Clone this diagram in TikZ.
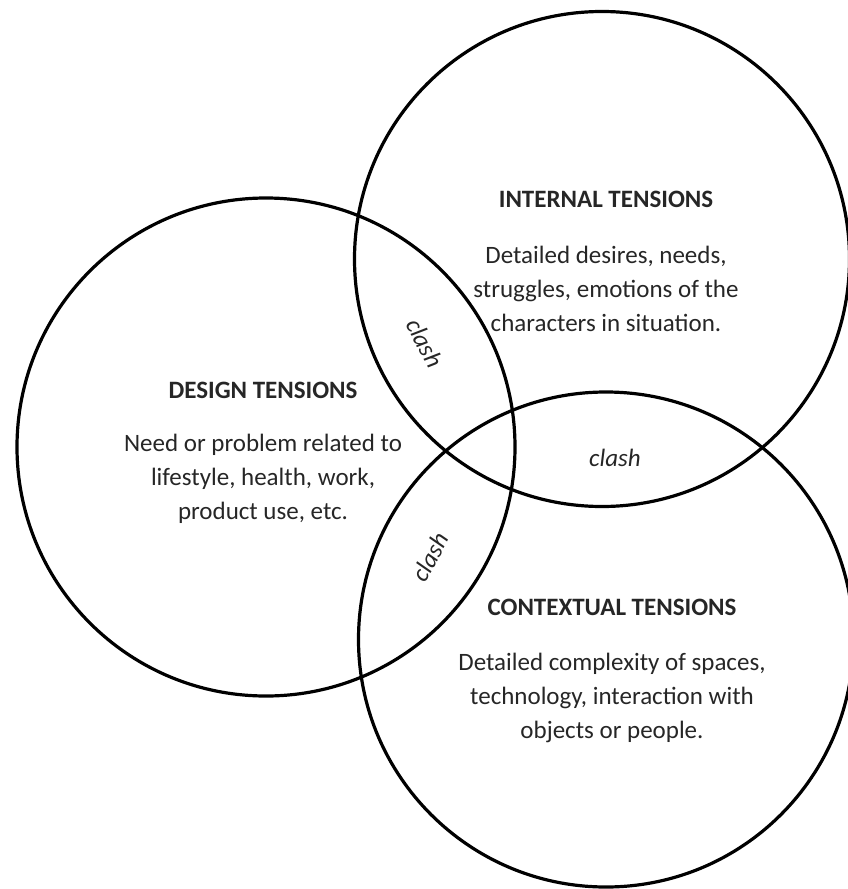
\documentclass[tikz,border=0pt]{standalone}
\usepackage{fontspec}
\setmainfont{Carlito}
\begin{document}
\begin{tikzpicture}[x=1pt,y=-1pt,
  ring/.style={circle,draw=black,line width=3.2pt,inner sep=0pt},
  ttl/.style={font=\fontsize{25}{34}\selectfont\bfseries,text=black!85,inner sep=0pt},
  body/.style={font=\fontsize{25}{34}\selectfont,text=black!85,align=center,inner sep=0pt},
  clashlbl/.style={font=\fontsize{25}{30}\selectfont\itshape,text=black!85,inner sep=0pt}]
\useasboundingbox (0,0) rectangle (847,889);
\node[ring,minimum size=498pt] (design) at (266,447) {};
\node[ring,minimum size=495pt] (internal) at (602,259) {};
\node[ring,minimum size=495pt] (contextual) at (606,639.5) {};
\node[ttl,anchor=base] (ti) at (606,207) {INTERNAL TENSIONS};
\node[body] (bi) at (606,289) {Detailed desires, needs,\\struggles, emotions of the\\characters in situation.};
\node[ttl,anchor=base] (td) at (263,398) {DESIGN TENSIONS};
\node[body] (bd) at (263,479) {Need or problem related to\\lifestyle, health, work,\\product use, etc.};
\node[ttl,anchor=base] (tc) at (612,615) {CONTEXTUAL TENSIONS};
\node[body] (bc) at (612,698) {Detailed complexity of spaces,\\technology, interaction with\\objects or people.};
\node[clashlbl,rotate=-62] (c1) at (425,343) {clash};
\node[clashlbl] (c2) at (615,458) {clash};
\node[clashlbl,rotate=62] (c3) at (430,557) {clash};
\end{tikzpicture}
\end{document}
